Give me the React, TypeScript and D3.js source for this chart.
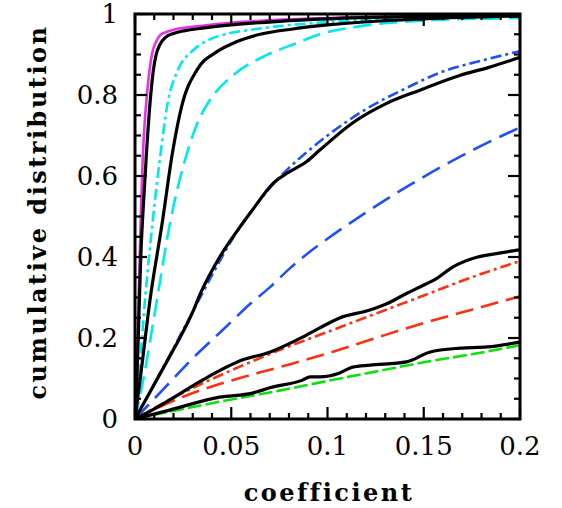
import React from "react";
import * as d3 from "d3";

const xTicks = [0, 0.05, 0.1, 0.15, 0.2];
const xTickLabels = ["0", "0.05", "0.1", "0.15", "0.2"];
const yTicks = [0, 0.2, 0.4, 0.6, 0.8, 1];
const yTickLabels = ["0", "0.2", "0.4", "0.6", "0.8", "1"];

const magenta = [[0,0],[0.001,0.15],[0.002,0.32],[0.003,0.5],[0.004,0.64],[0.005,0.73],[0.006,0.79],[0.0075,0.86],[0.009,0.905],[0.011,0.932],[0.013,0.947],[0.016,0.955],[0.02,0.961],[0.035,0.971],[0.05,0.978],[0.1,0.99],[0.15,0.995],[0.2,0.998]];
const black1 = [[0,0],[0.001,0.1],[0.002,0.25],[0.003,0.4],[0.0045,0.54],[0.006,0.66],[0.0078,0.78],[0.0095,0.86],[0.011,0.9],[0.013,0.925],[0.016,0.943],[0.02,0.952],[0.026,0.959],[0.035,0.965],[0.05,0.973],[0.075,0.982],[0.1,0.988],[0.15,0.994],[0.2,0.997]];
const cyanDashDot = [[0,0],[0.002,0.1],[0.0052,0.294],[0.009,0.48],[0.0135,0.664],[0.0166,0.77],[0.0223,0.862],[0.0296,0.908],[0.0374,0.934],[0.0478,0.951],[0.06,0.961],[0.075,0.97],[0.1,0.98],[0.15,0.99],[0.2,0.995]];
const black2 = [[0,0],[0.003,0.11],[0.0078,0.294],[0.014,0.48],[0.0197,0.664],[0.0244,0.775],[0.0322,0.862],[0.0426,0.907],[0.053,0.932],[0.065,0.95],[0.082,0.963],[0.1,0.973],[0.15,0.988],[0.2,0.995]];
const cyanDashed = [[0,0],[0.004,0.09],[0.0114,0.294],[0.018,0.479],[0.0275,0.664],[0.032,0.726],[0.039,0.788],[0.051,0.849],[0.0686,0.899],[0.084,0.928],[0.096,0.95],[0.117,0.97],[0.148,0.983],[0.2,0.99]];
const blueDashDot = [[0,0],[0.01,0.085],[0.02,0.175],[0.03,0.265],[0.04,0.355],[0.05,0.44],[0.06,0.51],[0.07,0.57],[0.08,0.62],[0.09,0.662],[0.1,0.7],[0.12,0.765],[0.14,0.815],[0.16,0.858],[0.18,0.885],[0.2,0.908]];
const black3 = [[0,0],[0.007,0.06],[0.014,0.12],[0.021,0.18],[0.0296,0.26],[0.034,0.31],[0.044,0.4],[0.0545,0.474],[0.061,0.516],[0.072,0.583],[0.079,0.607],[0.089,0.635],[0.096,0.664],[0.113,0.731],[0.131,0.78],[0.148,0.812],[0.169,0.849],[0.183,0.867],[0.2,0.893]];
const blueDashed = [[0,0],[0.01,0.05],[0.02,0.1],[0.03,0.15],[0.04,0.195],[0.05,0.24],[0.06,0.285],[0.07,0.325],[0.08,0.37],[0.09,0.41],[0.1,0.445],[0.12,0.51],[0.14,0.57],[0.16,0.625],[0.18,0.675],[0.2,0.72]];
const black4 = [[0,0],[0.01,0.025],[0.018,0.047],[0.035,0.096],[0.056,0.146],[0.07,0.165],[0.087,0.202],[0.096,0.225],[0.106,0.249],[0.122,0.269],[0.131,0.285],[0.141,0.31],[0.148,0.326],[0.157,0.348],[0.165,0.375],[0.178,0.4],[0.19,0.41],[0.2,0.418]];
const redDashDot = [[0,0],[0.025,0.065],[0.05,0.12],[0.075,0.17],[0.1,0.215],[0.125,0.26],[0.15,0.305],[0.175,0.35],[0.2,0.39]];
const redDashed = [[0,0],[0.025,0.055],[0.05,0.095],[0.075,0.128],[0.1,0.162],[0.125,0.2],[0.15,0.237],[0.175,0.27],[0.2,0.303]];
const black5 = [[0,0],[0.018,0.022],[0.044,0.054],[0.061,0.064],[0.07,0.077],[0.087,0.096],[0.091,0.104],[0.096,0.104],[0.106,0.113],[0.113,0.128],[0.122,0.133],[0.141,0.141],[0.153,0.165],[0.169,0.175],[0.183,0.178],[0.2,0.19]];
const greenDashed = [[0,0],[0.025,0.025],[0.05,0.048],[0.075,0.07],[0.1,0.094],[0.125,0.117],[0.15,0.14],[0.175,0.16],[0.2,0.182]];

const colored = [
  { data: magenta, color: "#e830e8", dash: null },
  { data: cyanDashDot, color: "#00e8f0", dash: "11,4,3,4" },
  { data: cyanDashed, color: "#00e8f0", dash: "18,8" },
  { data: blueDashDot, color: "#1f4fff", dash: "11,4,3,4" },
  { data: blueDashed, color: "#1f4fff", dash: "20,9" },
  { data: redDashDot, color: "#ff3010", dash: "11,4,3,4" },
  { data: redDashed, color: "#ff3010", dash: "18,8" },
  { data: greenDashed, color: "#10e010", dash: "14,4" },
];
const blacks = [black1, black2, black3, black4, black5];

const L = 135, R = 520, T = 14, B = 419;

export default function App() {
  const x = d3.scaleLinear().domain([0, 0.2]).range([L, R]);
  const y = d3.scaleLinear().domain([0, 1]).range([B, T]);
  const smoothLine = d3.line<number[]>().x(d => x(d[0])).y(d => y(d[1])).curve(d3.curveMonotoneX);
  const xMinor = d3.range(0, 21).map(i => i * 0.01);
  const yMinor = d3.range(0, 21).map(i => i * 0.05);
  const isMajorX = (v: number) => Math.abs(v / 0.05 - Math.round(v / 0.05)) < 1e-6;
  const isMajorY = (v: number) => Math.abs(v / 0.2 - Math.round(v / 0.2)) < 1e-6;
  const font = "'DejaVu Serif', serif";
  return (
    <svg width={562} height={508} style={{ position: "absolute", left: 0, top: 0, background: "#fff" }}>
      <defs>
        <clipPath id="plot"><rect x={L} y={T} width={R - L} height={B - T} /></clipPath>
      </defs>
      <g clipPath="url(#plot)" fill="none" strokeLinejoin="round">
        {colored.map((c, i) => (
          <path key={i} d={smoothLine(c.data as number[][]) || ""} stroke={c.color}
            strokeWidth={2.6} strokeDasharray={c.dash || undefined} />
        ))}
        {blacks.map((b, i) => (
          <path key={i} d={smoothLine(b as number[][]) || ""} stroke="#000" strokeWidth={3.2} />
        ))}
      </g>
      <g stroke="#000" strokeWidth={2.2}>
        {xMinor.map((v, i) => {
          const len = isMajorX(v) ? 12 : 6;
          return (
            <g key={i}>
              <line x1={x(v)} x2={x(v)} y1={B} y2={B - len} />
              <line x1={x(v)} x2={x(v)} y1={T} y2={T + len} />
            </g>
          );
        })}
        {yMinor.map((v, i) => {
          const len = isMajorY(v) ? 12 : 6;
          return (
            <g key={i}>
              <line x1={L} x2={L + len} y1={y(v)} y2={y(v)} />
              <line x1={R} x2={R - len} y1={y(v)} y2={y(v)} />
            </g>
          );
        })}
      </g>
      <rect x={L} y={T} width={R - L} height={B - T} fill="none" stroke="#000" strokeWidth={3} />
      <g fontFamily={font} fontSize={26} fill="#000">
        {xTicks.map((v, i) => (
          <text key={i} x={x(v)} y={455} textAnchor="middle">{xTickLabels[i]}</text>
        ))}
        {yTicks.map((v, i) => (
          <text key={i} x={118} y={y(v) + 9} textAnchor="end">{yTickLabels[i]}</text>
        ))}
      </g>
      <text x={329} y={501} textAnchor="middle" fontFamily={font} fontWeight="bold" fontSize={24} letterSpacing={2.5}>coefficient</text>
      <text transform="translate(46,212) rotate(-90)" textAnchor="middle" fontFamily={font} fontWeight="bold" fontSize={24} letterSpacing={2.5}>cumulative distribution</text>
    </svg>
  );
}
